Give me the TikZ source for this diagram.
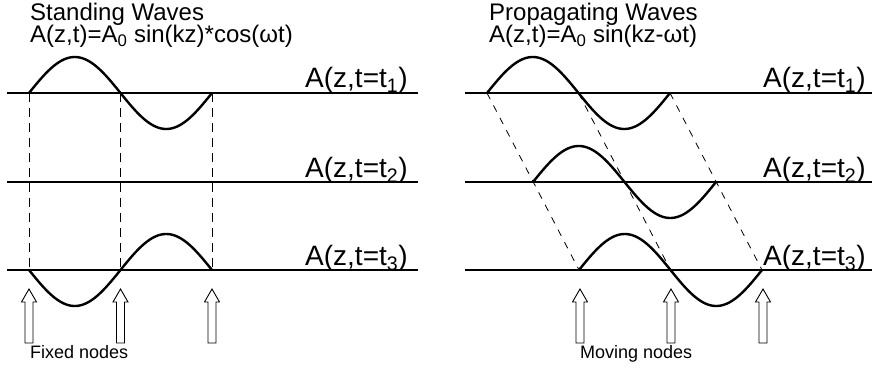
\documentclass[tikz,border=0pt]{standalone}
\usepackage{fontspec}
\setmainfont{Liberation Sans}
\begin{document}
\begin{tikzpicture}[x=1pt,y=-1pt,
  axis/.style={line width=1.2pt},
  wave/.style={line width=2.4pt, line join=round},
  guide/.style={line width=0.9pt, dash pattern=on 9pt off 6pt},
  slant/.style={line width=0.8pt, dash pattern=on 7pt off 7pt},
  hollow/.style={line width=0.9pt, fill=white},
  title/.style={anchor=base west, inner sep=0pt, font=\fontsize{24}{26}\selectfont},
  lab/.style={anchor=base west, inner sep=0pt, font=\fontsize{28}{30}\selectfont},
  small/.style={anchor=base west, inner sep=0pt, font=\fontsize{18}{20}\selectfont}]
\useasboundingbox (0,0) rectangle (872,369);
% titles
\node[title] (t1) at (30,21) {Standing Waves};
\node[title] (t2) at (30,43) {A(z,t)=A\textsubscript{0} sin(kz)*cos(ωt)};
\node[title] (t3) at (489,21) {Propagating Waves};
\node[title] (t4) at (489,43) {A(z,t)=A\textsubscript{0} sin(kz-ωt)};
% axes
\foreach \yy in {93,182,270} {
  \draw[axis] (7,\yy) -- (418,\yy);
  \draw[axis] (465,\yy) -- (872,\yy);
}
% labels
\node[lab] (l1) at (305,88) {A(z,t=t\textsubscript{1})};
\node[lab] (l2) at (305,177) {A(z,t=t\textsubscript{2})};
\node[lab] (l3) at (305,265) {A(z,t=t\textsubscript{3})};
\node[lab] (r1) at (763,88) {A(z,t=t\textsubscript{1})};
\node[lab] (r2) at (763,177) {A(z,t=t\textsubscript{2})};
\node[lab] (r3) at (763,265) {A(z,t=t\textsubscript{3})};
% standing waves guides
\foreach \xx in {29,120.5,212} \draw[guide] (\xx,93) -- (\xx,270);
% standing waves
\draw[wave] plot[domain=0:183, samples=80] ({29+\x},{93-36*sin(\x/183*360)});
\draw[wave] (29,182) -- (212,182);
\draw[wave] plot[domain=0:183, samples=80] ({29+\x},{270+36*sin(\x/183*360)});
% propagating guides
\draw[slant] (487,93) -- (579,270);
\draw[slant] (578.5,93) -- (670.5,270);
\draw[slant] (670,93) -- (762,270);
% propagating waves
\draw[wave] plot[domain=0:183, samples=80] ({487+\x},{93-36*sin(\x/183*360)});
\draw[wave] plot[domain=0:183, samples=80] ({533+\x},{182-36*sin(\x/183*360)});
\draw[wave] plot[domain=0:183, samples=80] ({579+\x},{270-36*sin(\x/183*360)});
% hollow arrows
\foreach \xx in {29,120.5,212,580,671,763} {
  \draw[hollow] (\xx-4,343) -- (\xx-4,302) -- (\xx-7.5,302) -- (\xx,289) -- (\xx+7.5,302) -- (\xx+4,302) -- (\xx+4,343) -- cycle;
}
\node[small] (fx) at (30,358) {Fixed nodes};
\node[small] (mv) at (580,358) {Moving nodes};
\end{tikzpicture}
\end{document}
